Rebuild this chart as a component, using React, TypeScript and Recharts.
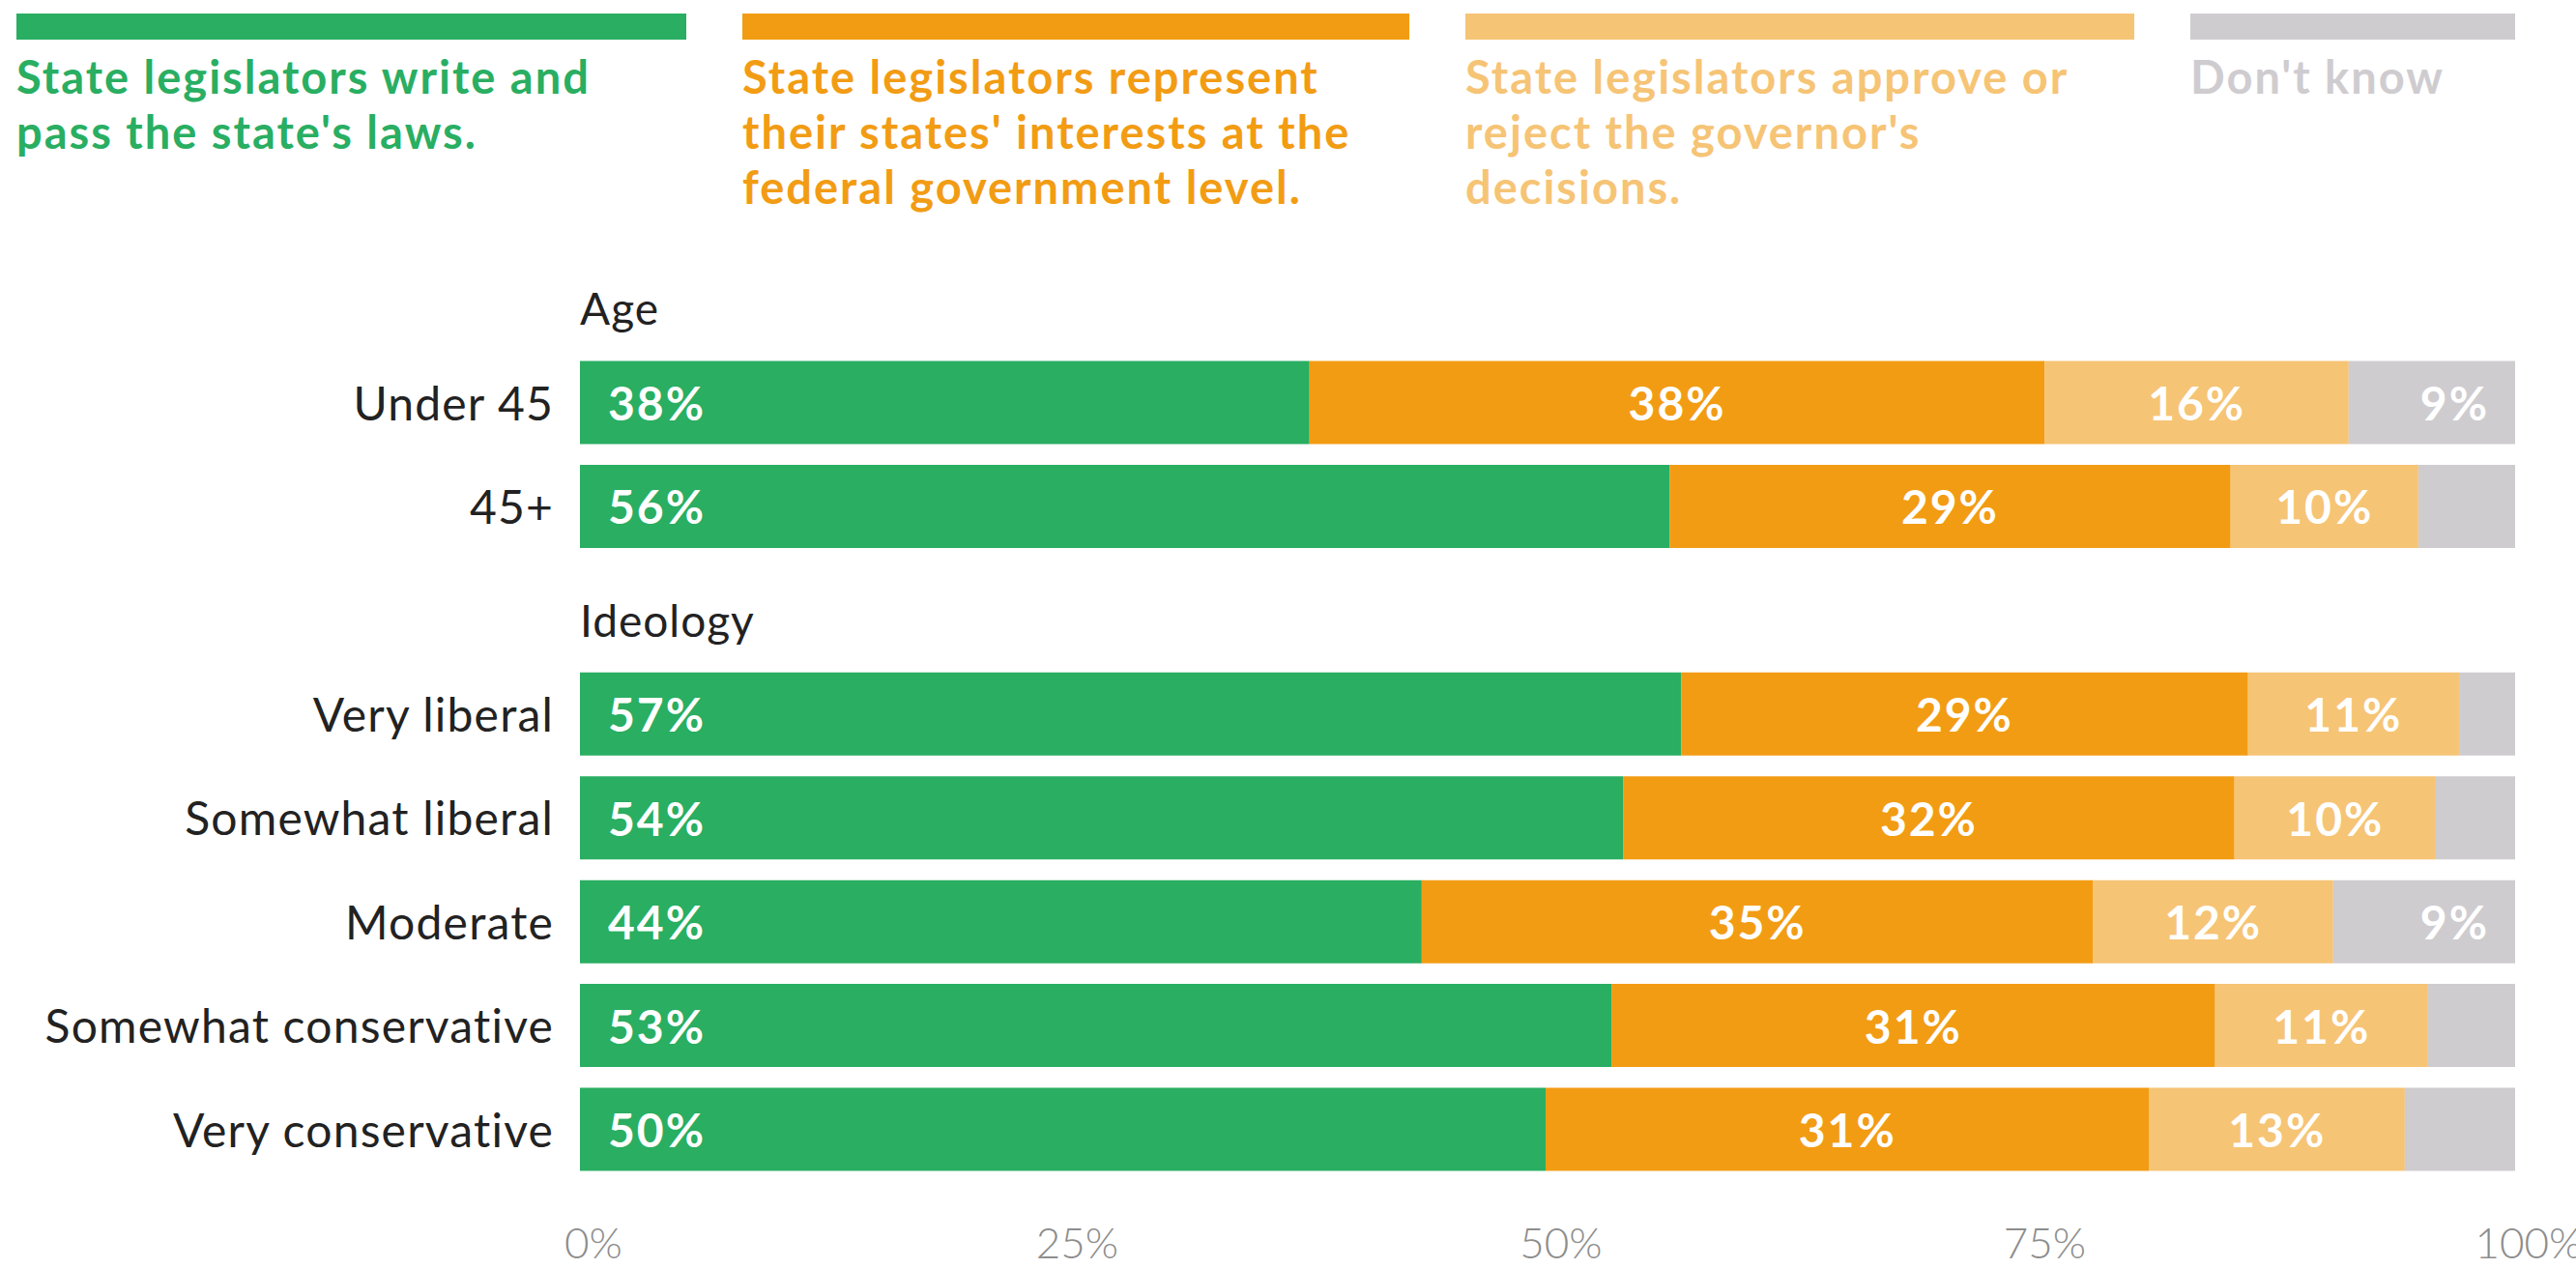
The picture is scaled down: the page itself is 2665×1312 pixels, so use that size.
import * as React from 'react'
import { Bar, BarChart, LabelList, XAxis, YAxis } from 'recharts'

// Rows, top to bottom. Group headers get an empty slot of their own.
const categories = [
  'Age',
  'Under 45',
  '45+',
  'Ideology',
  'Very liberal',
  'Somewhat liberal',
  'Moderate',
  'Somewhat conservative',
  'Very conservative',
]
const headers = ['Age', 'Ideology']

// Shares in percent
const writeAndPass = [null, 37.7, 56.3, null, 56.9, 53.9, 43.5, 53.3, 49.9]
const represent = [null, 38.0, 29.0, null, 29.3, 31.6, 34.7, 31.2, 31.2]
const approveReject = [null, 15.7, 9.7, null, 10.9, 10.4, 12.4, 11.0, 13.2]
const dontKnow = [null, 8.6, 5.0, null, 2.9, 4.1, 9.4, 4.5, 5.7]

const xTicks = [0, 25, 50, 75, 100]

const SERIES = [
  { key: 'write', label: 'State legislators write and pass the state\'s laws.', color: '#29ae62', values: writeAndPass, align: 'left' },
  { key: 'represent', label: 'State legislators represent their states\' interests at the federal government level.', color: '#f29c14', values: represent, align: 'middle' },
  { key: 'approve', label: 'State legislators approve or reject the governor\'s decisions.', color: '#f6c475', values: approveReject, align: 'middle' },
  { key: 'dontKnow', label: 'Don\'t know', color: '#cfccd0', values: dontKnow, align: 'right' },
]

const FONT = 'Lato, "Open Sans", sans-serif'
const W = 2665
const H = 1312

const data = categories.map((name, i) => {
  const row: Record<string, string | number | null> = { name }
  SERIES.forEach((s) => {
    row[s.key] = s.values[i]
  })
  return row
})

function CategoryTick({ y, payload }: any) {
  const name = payload.value
  if (headers.includes(name)) {
    return (
      <text x={600} y={y + 10} textAnchor="start" dominantBaseline="central" fontFamily={FONT} fontSize={46} letterSpacing={1} fill="#222">
        {name}
      </text>
    )
  }
  return (
    <text x={573} y={y} textAnchor="end" dominantBaseline="central" fontFamily={FONT} fontSize={48} letterSpacing={1.2} fill="#222">
      {name}
    </text>
  )
}

function PercentTick({ x, y, payload }: any) {
  return (
    <text x={x + 14} y={y + 78} textAnchor="middle" fontFamily={FONT} fontWeight={300} fontSize={44} fill="#8d8d8d">
      {`${payload.value}%`}
    </text>
  )
}

function makeLabel(align: string, minValue: number) {
  return function SegmentLabel({ x, y, width, height, value }: any) {
    if (value == null || value < minValue) return null
    let tx = x + width / 2
    let anchor = 'middle'
    if (align === 'left') {
      tx = x + 29
      anchor = 'start'
    } else if (align === 'right') {
      tx = x + width - 27
      anchor = 'end'
    }
    return (
      <text x={tx} y={y + height / 2} textAnchor={anchor} dominantBaseline="central" fontFamily={FONT} fontWeight={700} fontSize={48} letterSpacing={2} fill="#fff">
        {`${Math.round(value)}%`}
      </text>
    )
  }
}

function LegendBlock() {
  const cols = [
    { left: 17, width: 693 },
    { left: 768, width: 690 },
    { left: 1516, width: 692 },
    { left: 2266, width: 336 },
  ]
  return (
    <>
      {SERIES.map((s, i) => (
        <div key={s.key} style={{ position: 'absolute', left: cols[i].left, top: 14, width: cols[i].width }}>
          <div style={{ height: 27, background: s.color }} />
          <div
            style={{
              marginTop: 10,
              width: i === 3 ? 400 : 640,
              fontFamily: FONT,
              fontWeight: 700,
              fontSize: 47,
              letterSpacing: 2,
              lineHeight: '57px',
              color: s.color,
            }}
          >
            {s.label}
          </div>
        </div>
      ))}
    </>
  )
}

export default function App() {
  return (
    <div style={{ position: 'absolute', left: 0, top: 0, width: W, height: H, background: '#fff', overflow: 'hidden' }}>
      <LegendBlock />
      <BarChart
        width={W}
        height={H}
        data={data}
        layout="vertical"
        margin={{ top: 255, right: 63, bottom: 0, left: 0 }}
        barSize={86}
        style={{ position: 'absolute', left: 0, top: 0 }}
      >
        <XAxis
          type="number"
          domain={[0, 100]}
          ticks={xTicks}
          axisLine={false}
          tickLine={false}
          tickSize={0}
          height={90}
          tick={<PercentTick />}
          allowDataOverflow
        />
        <YAxis
          type="category"
          dataKey="name"
          width={600}
          axisLine={false}
          tickLine={false}
          tickSize={0}
          interval={0}
          tick={<CategoryTick />}
        />
        {SERIES.map((s) => (
          <Bar key={s.key} dataKey={s.key} stackId="a" fill={s.color} isAnimationActive={false}>
            <LabelList dataKey={s.key} content={makeLabel(s.align, s.key === 'dontKnow' ? 8 : 0)} />
          </Bar>
        ))}
      </BarChart>
    </div>
  )
}
